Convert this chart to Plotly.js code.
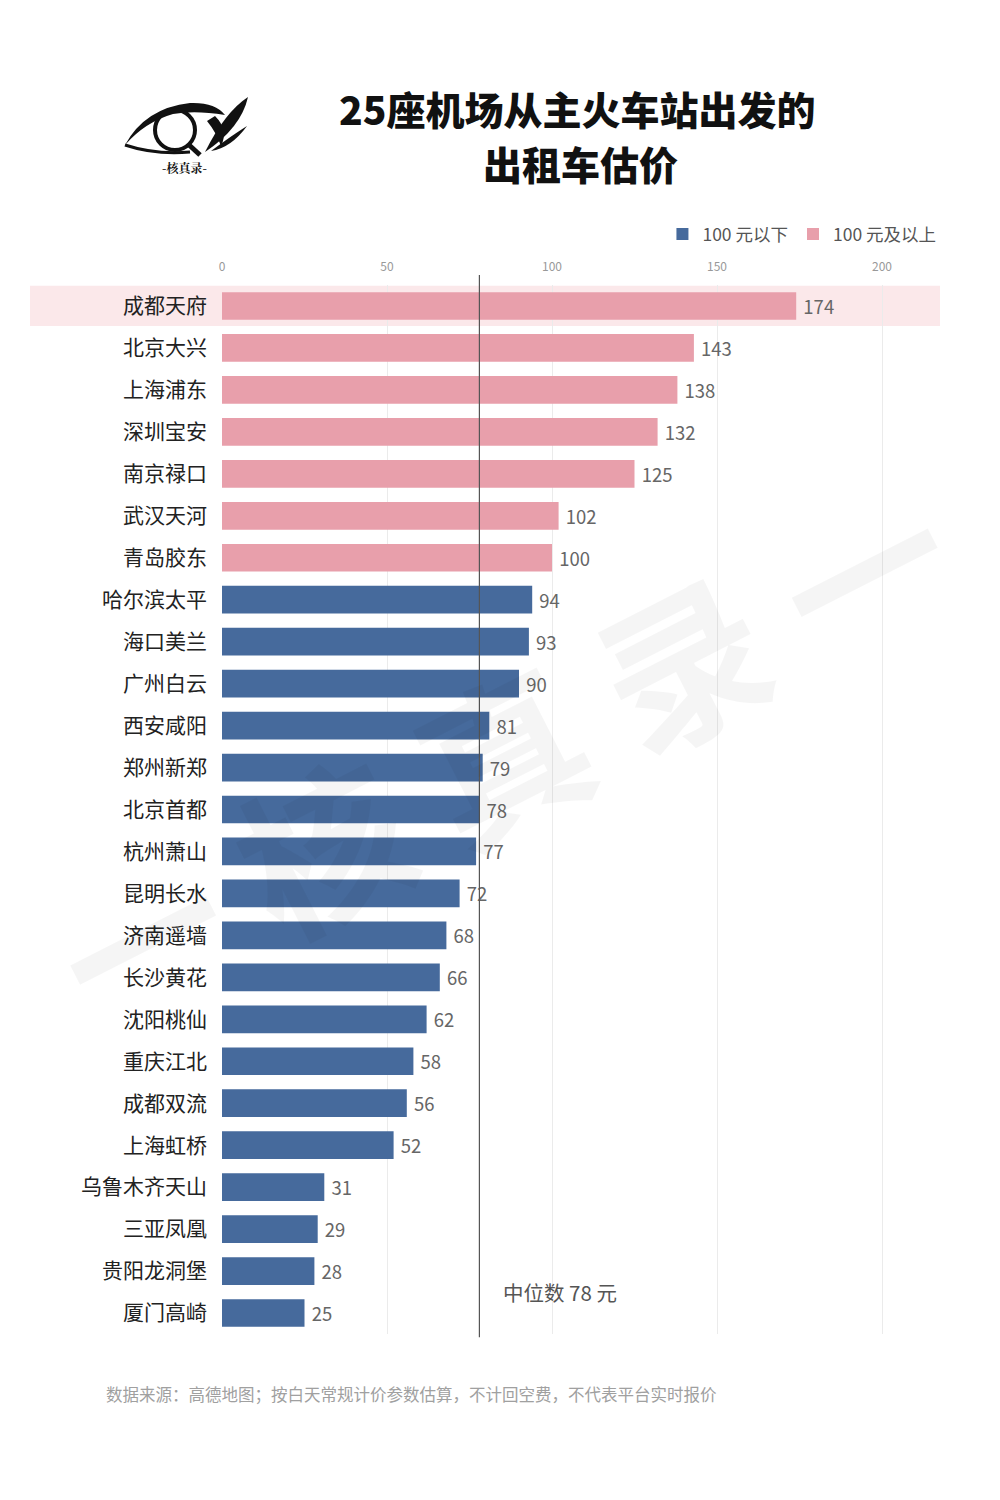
<!DOCTYPE html>
<html>
<head>
<meta charset="utf-8">
<script src="https://cdn.plot.ly/plotly-3.0.1.min.js"></script>
<style>html,body{margin:0;padding:0;background:#fff}#chart{width:1000px;height:1500px}</style>
</head>
<body>
<div id="chart"></div>
<script>
const airports = ["成都天府","北京大兴","上海浦东","深圳宝安","南京禄口","武汉天河","青岛胶东","哈尔滨太平","海口美兰","广州白云","西安咸阳","郑州新郑","北京首都","杭州萧山","昆明长水","济南遥墙","长沙黄花","沈阳桃仙","重庆江北","成都双流","上海虹桥","乌鲁木齐天山","三亚凤凰","贵阳龙洞堡","厦门高崎"];
const fares = [174,143,138,132,125,102,100,94,93,90,81,79,78,77,72,68,66,62,58,56,52,31,29,28,25];
const median = 78;
const seriesNames = ["100 元以下","100 元及以上"];
const xTicks = [0,50,100,150,200];

const PL = 222, PR = 940, PT = 285, PB = 1334;
const pw = PR - PL, ph = PB - PT;
const px = X => (X - PL) / pw;
const py = Y => (PB - Y) / ph;

const lowY = [], lowX = [], highY = [], highX = [];
airports.forEach((a, i) => {
  if (fares[i] >= 100) { highY.push(a); highX.push(fares[i]); }
  else { lowY.push(a); lowX.push(fares[i]); }
});

const CJK = '"Noto Sans CJK SC", "Noto Sans", sans-serif';
const traces = [
  {type:'bar', orientation:'h', name:seriesNames[0], y:lowY, x:lowX,
   marker:{color:'#466a9c'}, width:0.66,
   text:lowX.map(v => ' ' + v), textposition:'outside', cliponaxis:false,
   textfont:{size:18.5, color:'#666', family:CJK}, hoverinfo:'x+y'},
  {type:'bar', orientation:'h', name:seriesNames[1], y:highY, x:highX,
   marker:{color:'#e89fab'}, width:0.66,
   text:highX.map(v => ' ' + v), textposition:'outside', cliponaxis:false,
   textfont:{size:18.5, color:'#666', family:CJK}, hoverinfo:'x+y'}
];

const A = {xanchor:px(185), yanchor:py(130), xsizemode:'pixel', ysizemode:'pixel', xref:'paper', yref:'paper'};
const shapes = [
  {type:'rect', xref:'paper', yref:'y', x0:px(30), x1:1, y0:-0.48, y1:0.48, fillcolor:'#fbe8ea', line:{width:0}, layer:'below'},
  {type:'line', xref:'x', yref:'paper', x0:median, x1:median, y0:-0.003, y1:py(275), line:{color:'#555', width:1.2}},
  Object.assign({type:'path', path:'M -60,-15 Q -40,22 5,27 Q 30,28 40,15 Q 10,20 -12,16 Q -40,8 -60,-15 Z', fillcolor:'#111', line:{width:0}}, A),
  Object.assign({type:'path', path:'M -60,-15 Q -30,-25 5,-22', line:{color:'#111', width:3}}, A),
  Object.assign({type:'circle', x0:-30, x1:10, y0:-20, y1:20, line:{color:'#111', width:4}}, A),
  Object.assign({type:'path', path:'M 3,-14 L 15,-25', line:{color:'#111', width:5}}, A),
  Object.assign({type:'path', path:'M 30,14 Q 44,0 36,-16 Q 31,-2 22,9 Z', fillcolor:'#111', line:{width:0}}, A),
  Object.assign({type:'path', path:'M 20,-22 Q 40,18 63,33 Q 56,2 20,-22 Z', fillcolor:'#111', line:{width:0}}, A),
  Object.assign({type:'path', path:'M 26,-21 Q 46,-6 62,4 Q 46,-18 26,-21 Z', fillcolor:'#111', line:{width:0}}, A)
];

const annotations = [
  {xref:'paper', yref:'paper', x:px(577), y:py(108), text:'25座机场从主火车站出发的', showarrow:false,
   font:{family:CJK, size:39, color:'#111', weight:900}, xanchor:'center', yanchor:'middle'},
  {xref:'paper', yref:'paper', x:px(580), y:py(163), text:'出租车估价', showarrow:false,
   font:{family:CJK, size:39, color:'#111', weight:900}, xanchor:'center', yanchor:'middle'},
  {xref:'paper', yref:'paper', x:px(184), y:py(167), text:'-核真录-', showarrow:false,
   font:{family:'"Noto Serif CJK SC", "Noto Sans CJK SC", serif', size:12, color:'#111', weight:700}, xanchor:'center', yanchor:'middle'},
  {xref:'x', yref:'paper', x:median + 6.5, y:py(1292), text:'中位数 78 元', showarrow:false,
   font:{family:CJK, size:20.5, color:'#555'}, xanchor:'left', yanchor:'middle'},
  {xref:'paper', yref:'paper', x:px(104), y:py(1394), text:'数据来源：高德地图；按白天常规计价参数估算，不计回空费，不代表平台实时报价', showarrow:false,
   font:{family:CJK, size:16.5, color:'#a0a0a0'}, xanchor:'left', yanchor:'middle'},
  {xref:'paper', yref:'paper', x:px(500), y:py(750), text:'一 核 真 录 一', showarrow:false, textangle:-27,
   font:{family:CJK, size:165, color:'rgba(0,0,0,0.04)', weight:700}, xanchor:'center', yanchor:'middle'}
];

const layout = {
  width:1000, height:1500,
  margin:{l:PL, r:1000-PR, t:PT, b:1500-PB, pad:0},
  paper_bgcolor:'#fff', plot_bgcolor:'rgba(0,0,0,0)',
  barmode:'overlay', bargap:0.34,
  showlegend:true,
  legend:{orientation:'h', x:1.002, xanchor:'right', y:py(234), yanchor:'middle',
    font:{family:CJK, size:17.5, color:'#555'}, itemwidth:30, traceorder:'normal', bgcolor:'rgba(0,0,0,0)'},
  xaxis:{side:'top', range:[0, (PR-PL)/3.3], tickvals:xTicks, ticktext:xTicks.map(String),
    showgrid:true, gridcolor:'#ebebeb', gridwidth:1, zeroline:false, showline:false,
    tickfont:{family:CJK, size:12, color:'#999'}, ticks:'', ticklabelstandoff:11, fixedrange:true},
  yaxis:{type:'category', categoryorder:'array', categoryarray:airports, autorange:'reversed',
    range:[24.5,-0.5], showgrid:false, zeroline:false, showline:false, ticks:'',
    ticklabelstandoff:14, tickfont:{family:CJK, size:21, color:'#222'}, fixedrange:true},
  shapes:shapes, annotations:annotations,
  font:{family:CJK}
};

Plotly.newPlot('chart', traces, layout, {displayModeBar:false, staticPlot:true});
</script>
</body>
</html>
